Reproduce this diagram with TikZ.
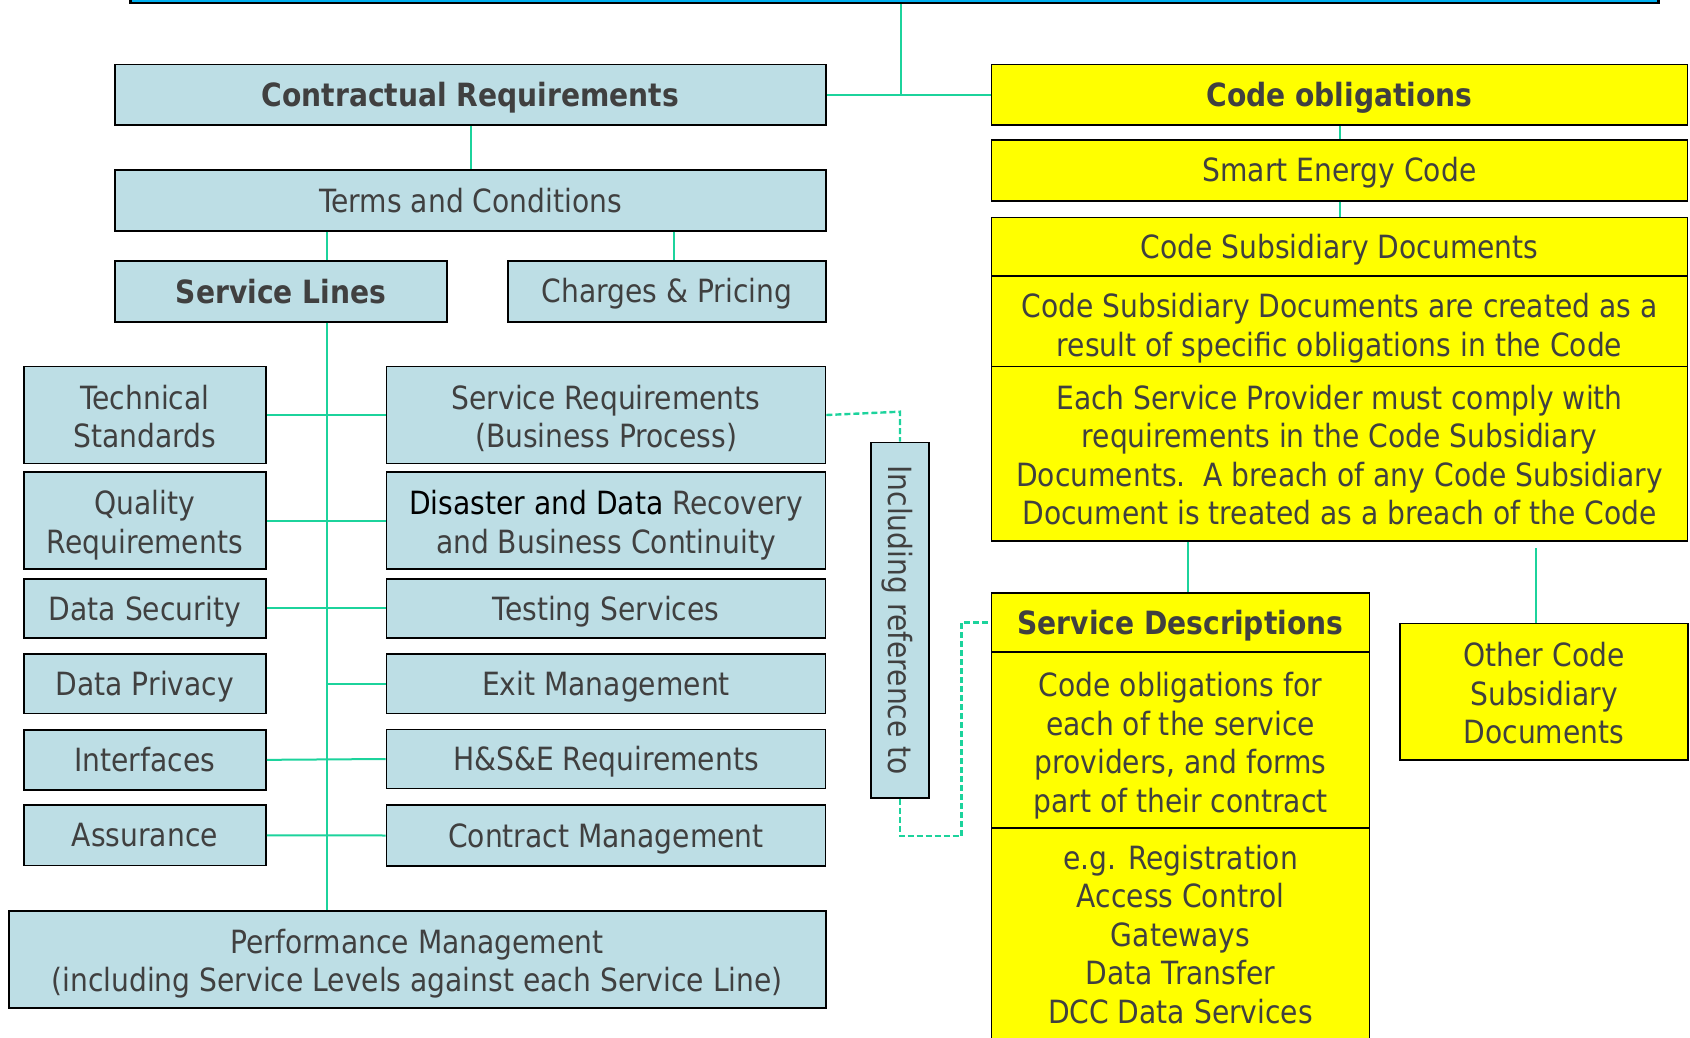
\documentclass[tikz,border=0pt]{standalone}
\usepackage{fontspec}
\setmainfont{DejaVu Sans}[FakeStretch=0.88]
\definecolor{lblue}{HTML}{BDDEE5}
\definecolor{yel}{HTML}{FFFF00}
\definecolor{conn}{HTML}{1CD39C}
\definecolor{txt}{HTML}{404040}
\definecolor{barblue}{HTML}{00B0F0}
% one line of text, boxed to cap height so that boxes centre on the capitals
\newcommand\capl[2][0pt]{\raisebox{-#1}[23.3pt][0pt]{#2}}
\begin{document}
\begin{tikzpicture}[x=1pt,y=-1pt,
  box/.style={draw=black, line width=1.8pt, inner sep=0pt, align=center, text=txt,
    font=\fontsize{32}{38.5}\selectfont},
  bl/.style={box, fill=lblue},
  yl/.style={box, fill=yel},
  bf/.style={font=\fontsize{32}{38.5}\selectfont\bfseries},
  link/.style={draw=conn, line width=2pt},
  dlink/.style={draw=conn, line width=2.4pt, dash pattern=on 6pt off 3pt}]
\useasboundingbox (0,0) rectangle (1690,1038);
% top bar
\node[draw=black, line width=2.5pt, fill=barblue, minimum width=1528, minimum height=40, anchor=south west, inner sep=0pt] (bar) at (129,4.5) {};
% left part
\node[bl, bf, minimum width=711, minimum height=60.5] (contract) at (470.5,94.75) {\capl{Contractual Requirements}};
\node[bl, minimum width=711, minimum height=60.7] (terms) at (470.5,200.35) {\capl{Terms and Conditions}};
\node[bl, bf, minimum width=332, minimum height=61] (lines) at (281,291.2) {\capl[1pt]{Service Lines}};
\node[bl, minimum width=318, minimum height=61] (charges) at (667,291.2) {\capl{Charges \& Pricing}};
\node[bl, minimum width=242.3, minimum height=97] (tech) at (144.85,415) {\capl[2pt]{Technical}\\\capl[2pt]{Standards}};
\node[bl, minimum width=242.3, minimum height=97] (quality) at (144.85,520.5) {\capl[2pt]{Quality}\\\capl[2pt]{Requirements}};
\node[bl, minimum width=242.3, minimum height=59.2] (dsec) at (144.85,608.4) {\capl{Data Security}};
\node[bl, minimum width=242.3, minimum height=59.5] (dpriv) at (144.85,683.75) {\capl{Data Privacy}};
\node[bl, minimum width=242.3, minimum height=60.3] (interf) at (144.85,759.85) {\capl{Interfaces}};
\node[bl, minimum width=242.3, minimum height=60.5] (assur) at (144.85,835.25) {\capl{Assurance}};
\node[bl, minimum width=439, minimum height=97] (sreq) at (606,415) {\capl[2pt]{Service Requirements}\\\capl[2pt]{(Business Process)}};
\node[bl, minimum width=439, minimum height=97] (disaster) at (606,520.5) {\capl[2pt]{\textcolor{black}{Disaster and Data} Recovery}\\\capl[2pt]{and Business Continuity}};
\node[bl, minimum width=439, minimum height=59.2] (testing) at (606,608.4) {\capl{Testing Services}};
\node[bl, minimum width=439, minimum height=59.5] (exit) at (606,683.75) {\capl{Exit Management}};
\node[bl, minimum width=439, minimum height=59] (hse) at (606,759) {\capl{H\&S\&E Requirements}};
\node[bl, minimum width=439, minimum height=60.5] (cm) at (606,835.5) {\capl{Contract Management}};
\node[bl, minimum width=817, minimum height=97.6] (perf) at (417.1,959.5) {\capl[1.5pt]{Performance Management}\\\capl[1.5pt]{(including Service Levels against each Service Line)}};
\node[bl, minimum width=58, minimum height=355.3] (incl) at (900,620.2) {};
\node[rotate=-90, text=txt, font=\fontsize{32}{38.5}\selectfont, inner sep=0pt] (incltext) at (incl.center) {\capl{Including reference to}};
% right part
\node[yl, bf, minimum width=696, minimum height=60.5] (codeob) at (1339.5,94.75) {\capl{Code obligations}};
\node[yl, minimum width=696, minimum height=60.7] (sec) at (1339.5,170.35) {\capl{Smart Energy Code}};
\node[yl, minimum width=696, minimum height=58.5] (csdh) at (1339.5,246.75) {\capl{Code Subsidiary Documents}};
\node[yl, minimum width=696, minimum height=90.5] (csd2) at (1339.5,321.25) {\capl[4pt]{Code Subsidiary Documents are created as a}\\\capl[4pt]{result of specific obligations in the Code}};
\node[yl, minimum width=696, minimum height=174.5] (csd3) at (1339.5,453.75) {\capl[1.5pt]{Each Service Provider must comply with}\\\capl[1.5pt]{requirements in the Code Subsidiary}\\\capl[1.5pt]{Documents.\ \ A breach of any Code Subsidiary}\\\capl[1.5pt]{Document is treated as a breach of the Code}};
\node[yl, bf, minimum width=378, minimum height=59] (sd) at (1180.5,622.5) {\capl{Service Descriptions}};
\node[yl, minimum width=378, minimum height=175.5] (sd2) at (1180.5,739.75) {\capl[3pt]{Code obligations for}\\\capl[3pt]{each of the service}\\\capl[3pt]{providers, and forms}\\\capl[3pt]{part of their contract}};
\node[yl, minimum width=378, minimum height=222.5, anchor=north] (sd3) at (1180.5,827.5) {};
\node[text=txt, font=\fontsize{32}{38.5}\selectfont, align=center, inner sep=0pt, anchor=north] (sd3text) at (1180.5,845.5) {\capl{e.g. Registration}\\\capl{Access Control}\\\capl{Gateways}\\\capl{Data Transfer}\\\capl{DCC Data Services}};
\node[yl, minimum width=288, minimum height=136.5] (other) at (1544,691.75) {\capl[2pt]{Other Code}\\\capl[2pt]{Subsidiary}\\\capl[2pt]{Documents}};
% connectors
\coordinate (j) at (901,94.75);
\coordinate (trunk) at (327,0);
\coordinate (tc) at (674,0);
\coordinate (sdx) at (1187.7,0);
\coordinate (otop) at (1536,548);
\coordinate (dtop) at (900,411.7);
\coordinate (dturn) at (961.5,622.5);
\draw[link] (contract.east) -- (codeob.west);
\draw[link] (bar.south -| j) -- (j);
\draw[link] (contract.south) -- (terms.north);
\draw[link] (terms.south -| trunk) -- (lines.north -| trunk);
\draw[link] (terms.south -| tc) -- (charges.north -| tc);
\draw[link] (lines.south -| trunk) -- (perf.north -| trunk);
\draw[link] (tech.east) -- (sreq.west);
\draw[link] (quality.east) -- (disaster.west);
\draw[link] (dsec.east) -- (testing.west);
\draw[link] (exit.west -| trunk) -- (exit.west);
\draw[link] (interf.east) -- (hse.west);
\draw[link] (assur.east) -- (cm.west);
\draw[link] (codeob.south) -- (sec.north);
\draw[link] (sec.south) -- (csdh.north);
\draw[link] (csd3.south -| sdx) -- (sd.north -| sdx);
\draw[link] (otop) -- (other.north -| otop);
\draw[dlink] (sreq.east) -- (dtop) -- (incl.north);
\draw[dlink] (incl.south) -- ++(0,37.3) -| (dturn) -- (sd.west);
\end{tikzpicture}
\end{document}
